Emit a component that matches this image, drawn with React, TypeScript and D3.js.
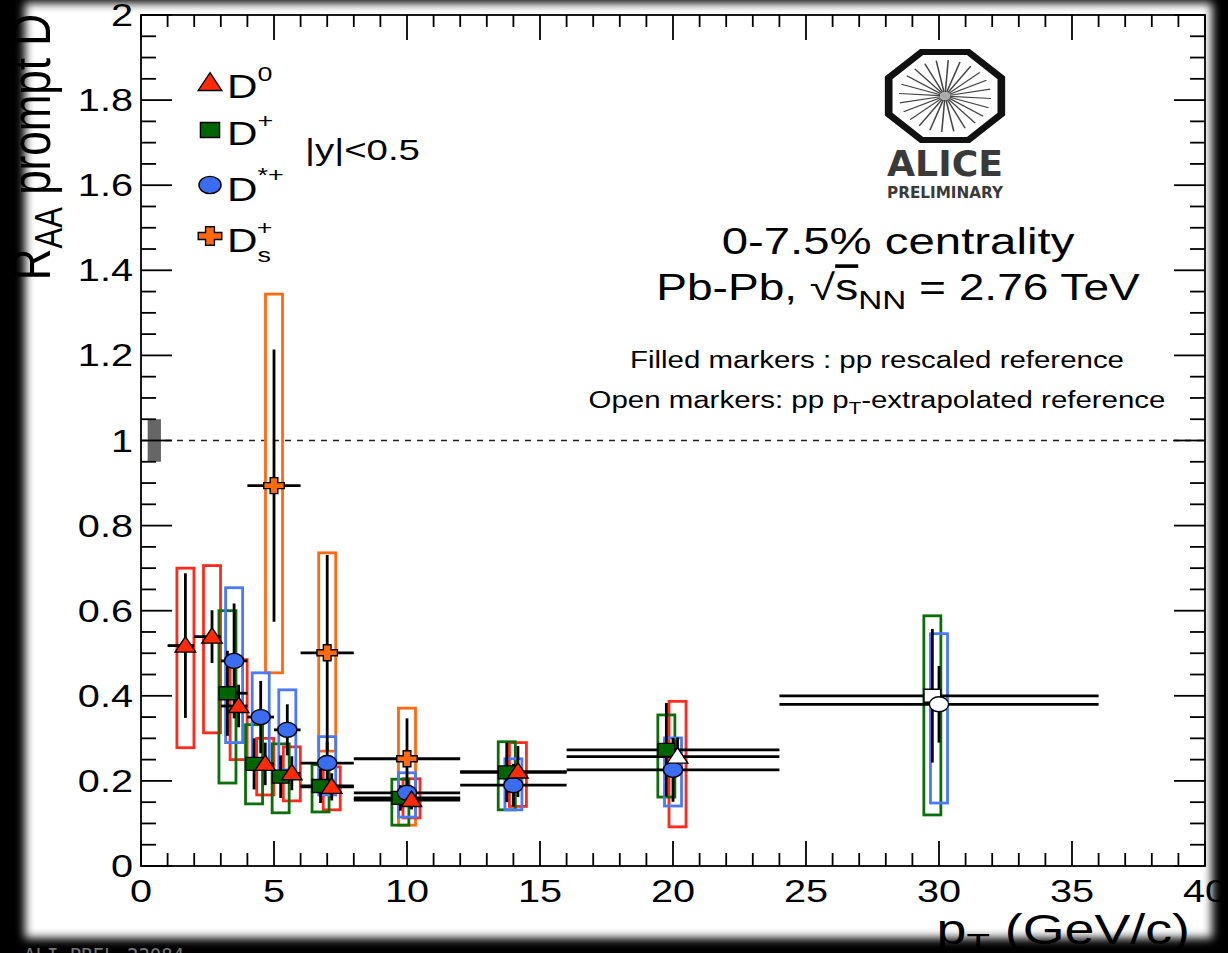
import React from "react";
import * as d3 from "d3";

// ---- Nuclear modification factor of prompt D mesons, 0-7.5% Pb-Pb ----
// D0
const d0Pt = [1.5, 2.5, 3.5, 4.5, 5.5, 7, 10, 14, 20];
const d0BinLo = [1, 2, 3, 4, 5, 6, 8, 12, 16];
const d0BinHi = [2, 3, 4, 5, 6, 8, 12, 16, 24];
const d0Raa = [0.518, 0.539, 0.376, 0.24, 0.218, 0.186, 0.155, 0.222, 0.257];
const d0Stat = [0.17, 0.062, 0.05, 0.05, 0.04, 0.032, 0.022, 0.06, 0.045];
const d0SystLo = [0.278, 0.313, 0.25, 0.167, 0.153, 0.132, 0.113, 0.14, 0.092];
const d0SystHi = [0.7, 0.706, 0.485, 0.3, 0.28, 0.233, 0.205, 0.29, 0.387];
const d0Open = [false, false, false, false, false, false, false, false, true];

// D+
const dplusPt = [3.5, 4.5, 5.5, 7, 10, 14, 20, 30];
const dplusBinLo = [3, 4, 5, 6, 8, 12, 16, 24];
const dplusBinHi = [4, 5, 6, 8, 12, 16, 24, 36];
const dplusRaa = [0.406, 0.24, 0.21, 0.188, 0.16, 0.22, 0.273, 0.4];
const dplusStat = [0.1, 0.06, 0.05, 0.04, 0.03, 0.07, 0.11, 0.157];
const dplusSystLo = [0.195, 0.146, 0.125, 0.127, 0.096, 0.132, 0.162, 0.12];
const dplusSystHi = [0.6, 0.332, 0.287, 0.238, 0.204, 0.292, 0.355, 0.588];
const dplusOpen = [false, false, false, false, false, false, false, true];

// D*+
const dstarPt = [3.5, 4.5, 5.5, 7, 10, 14, 20, 30];
const dstarBinLo = [3, 4, 5, 6, 8, 12, 16, 24];
const dstarBinHi = [4, 5, 6, 8, 12, 16, 24, 36];
const dstarRaa = [0.482, 0.35, 0.32, 0.242, 0.172, 0.19, 0.226, 0.38];
const dstarStat = [0.135, 0.085, 0.06, 0.05, 0.03, 0.05, 0.075, 0.09];
const dstarSystLo = [0.29, 0.24, 0.226, 0.167, 0.115, 0.132, 0.141, 0.148];
const dstarSystHi = [0.654, 0.454, 0.414, 0.304, 0.219, 0.252, 0.301, 0.546];
const dstarOpen = [false, false, false, false, false, false, false, true];

// Ds+
const dsPt = [5, 7, 10];
const dsBinLo = [4, 6, 8];
const dsBinHi = [6, 8, 12];
const dsRaa = [0.894, 0.501, 0.252];
const dsStat = [0.32, 0.23, 0.095];
const dsSystLo = [0.454, 0.27, 0.096];
const dsSystHi = [1.344, 0.736, 0.371];
const dsOpen = [false, false, false];

// global normalisation uncertainty drawn at R_AA = 1
const normUnc = 0.05;

const xTickLabels = ["0", "5", "10", "15", "20", "25", "30", "35", "40"];
const yTickLabels = ["0", "0.2", "0.4", "0.6", "0.8", "1", "1.2", "1.4", "1.6", "1.8", "2"];

const W = 1228;
const H = 953;
const SX = 1.28; // horizontal aspect of the canvas
const FONT = "'Liberation Sans', Arial, Helvetica, sans-serif";

const x = d3.scaleLinear().domain([0, 40]).range([141, 1205]);
const y = d3.scaleLinear().domain([0, 2]).range([866, 15]);

type Kind = "tri" | "sq" | "circ" | "cross";

const species = [
  {
    name: "Ds", kind: "cross" as Kind, fill: "#ff6a10", box: "#ff6a10", shift: 0,
    pt: dsPt, lo: dsBinLo, hi: dsBinHi, v: dsRaa, st: dsStat, sl: dsSystLo, sh: dsSystHi, open: dsOpen,
  },
  {
    name: "D0", kind: "tri" as Kind, fill: "#ff2a0a", box: "#ff2a1a", shift: 0.17,
    pt: d0Pt, lo: d0BinLo, hi: d0BinHi, v: d0Raa, st: d0Stat, sl: d0SystLo, sh: d0SystHi, open: d0Open,
  },
  {
    name: "Dplus", kind: "sq" as Kind, fill: "#006400", box: "#0a6e0a", shift: -0.25,
    pt: dplusPt, lo: dplusBinLo, hi: dplusBinHi, v: dplusRaa, st: dplusStat, sl: dplusSystLo, sh: dplusSystHi, open: dplusOpen,
  },
  {
    name: "Dstar", kind: "circ" as Kind, fill: "#3a6df0", box: "#4a7af5", shift: 0,
    pt: dstarPt, lo: dstarBinLo, hi: dstarBinHi, v: dstarRaa, st: dstarStat, sl: dstarSystLo, sh: dstarSystHi, open: dstarOpen,
  },
];
const markerOrder = ["Dplus", "Dstar", "Ds", "D0"];
const BOX_HALF = 0.32;

function Txt(props: {
  x: number; y: number; size: number; anchor?: string; rot?: boolean;
  fill?: string; family?: string; weight?: string | number; children: React.ReactNode;
}) {
  const { x: tx, y: ty, size, anchor = "start", rot = false, fill = "#000", family = FONT, weight, children } = props;
  return (
    <g transform={`translate(${tx},${ty}) scale(${SX},1)${rot ? " rotate(-90)" : ""}`}>
      <text fontSize={size} textAnchor={anchor as any} fontFamily={family} fill={fill} fontWeight={weight as any}>
        {children}
      </text>
    </g>
  );
}

function Marker({ kind, cx, cy, fill, open, k = 1 }: { kind: Kind; cx: number; cy: number; fill: string; open?: boolean; k?: number }) {
  const f = open ? "#ffffff" : fill;
  const common = { fill: f, stroke: "#000", strokeWidth: 1.4, vectorEffect: "non-scaling-stroke" as any };
  let shape: React.ReactNode;
  if (kind === "tri") shape = <polygon points="0,-9 8,6.5 -8,6.5" {...common} />;
  else if (kind === "sq") shape = <rect x={-6.5} y={-6.5} width={13} height={13} {...common} />;
  else if (kind === "circ") shape = <circle r={7.5} {...common} />;
  else
    shape = (
      <polygon
        points="-3,-8 3,-8 3,-3 8,-3 8,3 3,3 3,8 -3,8 -3,3 -8,3 -8,-3 -3,-3"
        {...common}
      />
    );
  return <g transform={`translate(${cx},${cy}) scale(${SX * k},${k})`}>{shape}</g>;
}

function AliceLogo({ cx, cy }: { cx: number; cy: number }) {
  const R = 44 / Math.cos(Math.PI / 8);
  const oct = d3.range(8).map((i) => {
    const a = Math.PI / 8 + (i * Math.PI) / 4;
    return [R * Math.cos(a), R * Math.sin(a)];
  });
  const spokes = d3.range(24).map((i) => (i * Math.PI * 2) / 24 + 0.07);
  return (
    <g>
      <g transform={`translate(${cx},${cy}) scale(${SX},1)`}>
        <polygon points={oct.map((p) => p.join(",")).join(" ")} fill="#fff" stroke="#111" strokeWidth={6} strokeLinejoin="miter" />
        {spokes.map((a, i) => (
          <line key={i} x1={4 * Math.cos(a)} y1={4 * Math.sin(a)} x2={36 * Math.cos(a)} y2={36 * Math.sin(a)}
            stroke="#444" strokeWidth={1.2} />
        ))}
        <circle r={4} fill="#aaa" />
      </g>
      <text x={cx} y={cy + 80} textAnchor="middle" fontSize={35} fontFamily="'DejaVu Sans', sans-serif" fontWeight="bold"
        fill="#3a3a3a" textLength={116} lengthAdjust="spacingAndGlyphs">ALICE</text>
      <text x={cx} y={cy + 102} textAnchor="middle" fontSize={15} fontFamily="'DejaVu Sans', sans-serif" fontWeight="bold"
        fill="#3a3a3a" textLength={116} lengthAdjust="spacingAndGlyphs">PRELIMINARY</text>
    </g>
  );
}

export default function App() {
  const x0 = x.range()[0], x1 = x.range()[1];
  const yTop = y.range()[1], yBot = y.range()[0];
  const xMinor = d3.range(0, 41, 1);
  const yMinor = d3.range(0, 2.0001, 0.05);
  const legendRows = [
    { kind: "tri" as Kind, fill: "#ff2a0a", y: 83 },
    { kind: "sq" as Kind, fill: "#006400", y: 130 },
    { kind: "circ" as Kind, fill: "#3a6df0", y: 185 },
    { kind: "cross" as Kind, fill: "#ff6a10", y: 236 },
  ];

  return (
    <svg width={W} height={H} style={{ position: "absolute", left: 0, top: 0, display: "block" }}
      xmlns="http://www.w3.org/2000/svg">
      <defs>
        <filter id="soft" x="-5%" y="-5%" width="110%" height="110%">
          <feGaussianBlur stdDeviation={5} />
        </filter>
        <mask id="edge" maskUnits="userSpaceOnUse" x={0} y={0} width={W} height={H}>
          <rect x={0} y={0} width={W} height={H} fill="#fff" />
          <rect x={25} y={3} width={1187} height={935} fill="#000" filter="url(#soft)" />
        </mask>
      </defs>

      <rect x={0} y={0} width={W} height={H} fill="#fff" />

      {/* reference line at unity and its normalisation uncertainty */}
      <line x1={x0} x2={x1} y1={y(1)} y2={y(1)} stroke="#222" strokeWidth={1.5} strokeDasharray="6,6" />
      <rect x={x(0.25)} width={x(0.75) - x(0.25)} y={y(1 + normUnc)} height={y(1 - normUnc) - y(1 + normUnc)} fill="#666" />

      {/* systematic boxes */}
      {species.map((s) =>
        s.pt.map((p, i) => {
          const c = p + s.shift;
          return (
            <rect key={s.name + "b" + i} x={x(c - BOX_HALF)} width={x(c + BOX_HALF) - x(c - BOX_HALF)}
              y={y(s.sh[i])} height={y(s.sl[i]) - y(s.sh[i])} fill="none" stroke={s.box} strokeWidth={2.8} />
          );
        })
      )}

      {/* statistical errors and bin widths */}
      {species.map((s) =>
        s.pt.map((p, i) => {
          const c = p + s.shift;
          return (
            <g key={s.name + "e" + i} stroke="#000" strokeWidth={2.8}>
              <line x1={x(c)} x2={x(c)} y1={y(s.v[i] + s.st[i])} y2={y(s.v[i] - s.st[i])} />
              <line x1={x(s.lo[i])} x2={x(s.hi[i])} y1={y(s.v[i])} y2={y(s.v[i])} />
            </g>
          );
        })
      )}

      {/* markers */}
      {markerOrder.map((n) => {
        const s = species.find((q) => q.name === n)!;
        return s.pt.map((p, i) => (
          <Marker key={n + "m" + i} kind={s.kind} cx={x(p + s.shift)} cy={y(s.v[i])} fill={s.fill} open={s.open[i]} />
        ));
      })}

      {/* legend */}
      {legendRows.map((r, i) => (
        <Marker key={"lg" + i} kind={r.kind} cx={210} cy={r.y} fill={r.fill} k={1.15} />
      ))}
      <Txt x={227} y={98} size={33}>D<tspan fontSize={21} dy={-17}>0</tspan></Txt>
      <Txt x={227} y={145} size={33}>D<tspan fontSize={21} dy={-17}>+</tspan></Txt>
      <Txt x={227} y={201} size={33}>D<tspan fontSize={21} dy={-19}>*+</tspan></Txt>
      <Txt x={227} y={252} size={33}>D<tspan fontSize={21} dy={10}>s</tspan><tspan fontSize={21} dx={-11} dy={-27}>+</tspan></Txt>
      <Txt x={305} y={160} size={30}>|y|&lt;0.5</Txt>

      <AliceLogo cx={945} cy={96} />

      <Txt x={898} y={254} size={37} anchor="middle">0-7.5% centrality</Txt>
      <Txt x={898} y={300} size={36} anchor="middle">
        Pb-Pb, √<tspan textDecoration="overline">s</tspan><tspan fontSize={26} dy={9}>NN</tspan><tspan dy={-9}> = 2.76 TeV</tspan>
      </Txt>
      <Txt x={877} y={368} size={23} anchor="middle">Filled markers : pp rescaled reference</Txt>
      <Txt x={877} y={408} size={23} anchor="middle">
        Open markers: pp p<tspan fontSize={16} dy={6}>T</tspan><tspan dy={-6}>-extrapolated reference</tspan>
      </Txt>

      {/* frame and ticks */}
      <g stroke="#000" strokeWidth={1.8} fill="none">
        <rect x={x0} y={yTop} width={x1 - x0} height={yBot - yTop} />
        {xMinor.map((v) => {
          const major = v % 5 === 0;
          return (
            <g key={"xt" + v}>
              <line x1={x(v)} x2={x(v)} y1={yBot} y2={yBot - (major ? 25 : 13)} />
              <line x1={x(v)} x2={x(v)} y1={yTop} y2={yTop + (major ? 25 : 12)} />
            </g>
          );
        })}
        {yMinor.map((v, i) => {
          const major = i % 4 === 0;
          return (
            <g key={"yt" + i}>
              <line x1={x0} x2={x0 + (major ? 31 : 15)} y1={y(v)} y2={y(v)} />
              <line x1={x1} x2={x1 - (major ? 31 : 15)} y1={y(v)} y2={y(v)} />
            </g>
          );
        })}
      </g>

      {xTickLabels.map((t) => (
        <Txt key={"xl" + t} x={x(+t)} y={902} size={31} anchor="middle">{t}</Txt>
      ))}
      {yTickLabels.map((t) => (
        <Txt key={"yl" + t} x={133} y={y(+t) + 11} size={31} anchor="end">{t}</Txt>
      ))}

      {/* axis titles */}
      <Txt x={50} y={14} size={44} anchor="end" rot>
        R<tspan fontSize={31} dy={9}>AA</tspan><tspan dy={-9}> prompt D</tspan>
      </Txt>
      <Txt x={1190} y={944} size={42} anchor="end">
        p<tspan fontSize={30} dy={10}>T</tspan><tspan dy={-10}> (GeV/c)</tspan>
      </Txt>

      {/* darkened edges */}
      <rect x={0} y={0} width={W} height={H} fill="#000" mask="url(#edge)" />
      <text x={24} y={962} fontSize={19} fontFamily="'DejaVu Sans Mono', monospace" fill="#777">ALI-PREL-22084</text>
    </svg>
  );
}
